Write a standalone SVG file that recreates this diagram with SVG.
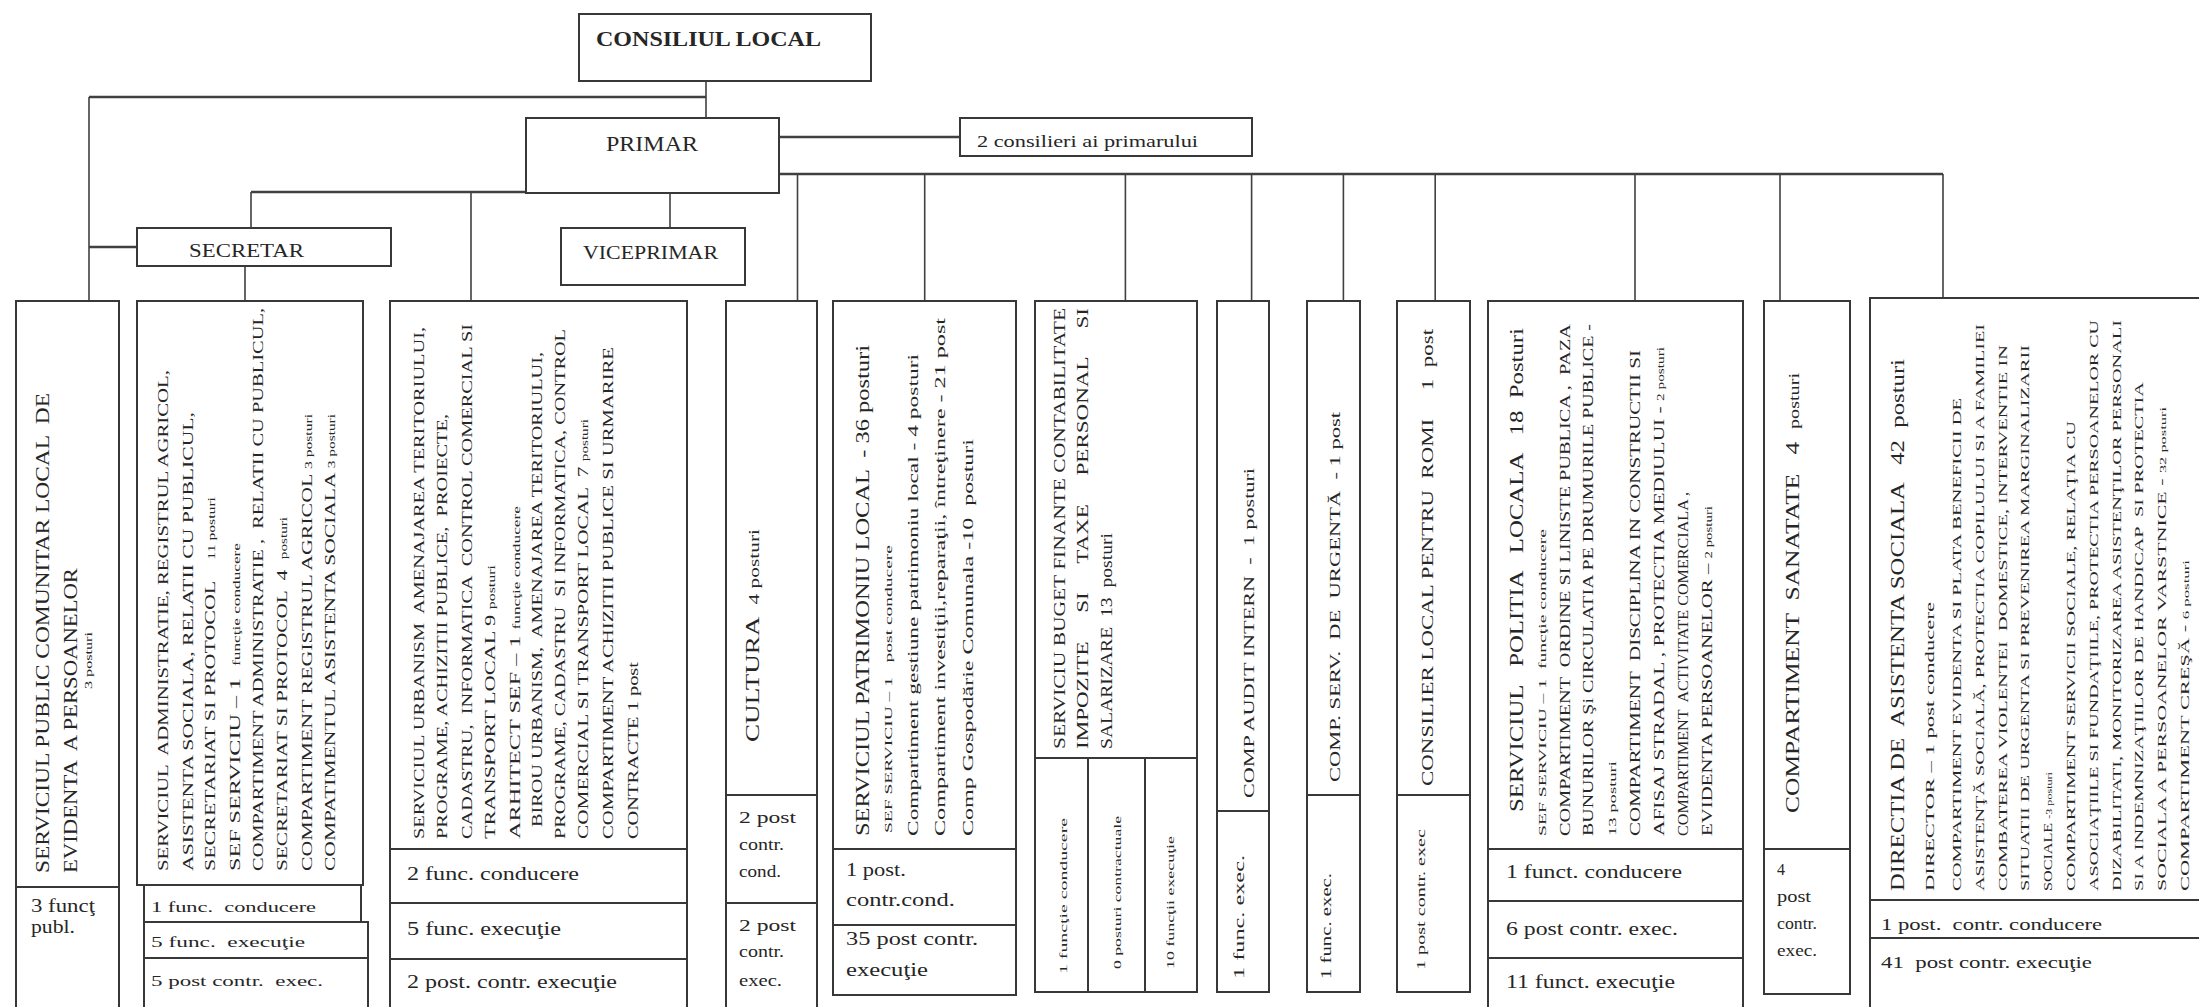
<svg xmlns="http://www.w3.org/2000/svg" width="2199" height="1007" viewBox="0 0 2199 1007" xml:space="preserve">
<style>
.bx{fill:#fff;stroke:#383838;stroke-width:2}
.dv{stroke:#383838;stroke-width:2;fill:none}
.cn{stroke:#404040;stroke-width:1.6;fill:none}
.ch{stroke:#404040;stroke-width:2.4;fill:none}
text{font-family:"Liberation Serif","Times New Roman",serif;fill:#262626;white-space:pre}
</style>
<rect width="2199" height="1007" fill="#fff"/>
<g id="connectors">
<path class="cn" d="M706 81V118"/>
<path class="ch" d="M89 97H706"/>
<path class="cn" d="M89 97V301"/>
<path class="ch" d="M89 247H137"/>
<path class="ch" d="M779 137H960"/>
<path class="ch" d="M779 174H1943"/>
<path class="cn" d="M797.5 174V301M924.7 174V301M1125.4 174V301M1251.6 174V301M1343.4 174V301M1435.2 174V301M1635 174V301M1780 174V301M1943 174V298"/>
<path class="ch" d="M251 192H526"/>
<path class="cn" d="M251 192V228M471 192V301M670 193V228M245 266V301"/>
</g>
<g id="consiliul-local"><rect class="bx" x="579" y="14" width="292" height="67"/><text x="596" y="46" font-size="20" font-weight="bold" textLength="225" lengthAdjust="spacingAndGlyphs">CONSILIUL LOCAL</text></g>
<g id="primar"><rect class="bx" x="526" y="118" width="253" height="75"/><text x="606" y="151" font-size="20" textLength="92" lengthAdjust="spacingAndGlyphs">PRIMAR</text></g>
<g id="consilieri"><rect class="bx" x="960" y="118" width="292" height="38"/><text x="977" y="147" font-size="16" textLength="221" lengthAdjust="spacingAndGlyphs">2 consilieri ai primarului</text></g>
<g id="secretar"><rect class="bx" x="137" y="228" width="254" height="38"/><text x="189" y="257" font-size="18" textLength="115" lengthAdjust="spacingAndGlyphs">SECRETAR</text></g>
<g id="viceprimar"><rect class="bx" x="561" y="228" width="184" height="57"/><text x="583" y="259" font-size="18" textLength="135" lengthAdjust="spacingAndGlyphs">VICEPRIMAR</text></g>

<g id="evidenta-persoanelor">
<rect class="bx" x="16" y="301" width="103" height="711"/><path class="dv" d="M16 887H119"/>
<text x="49" y="873" transform="rotate(-90 49 873)" font-size="19" textLength="480" lengthAdjust="spacingAndGlyphs">SERVICIUL PUBLIC COMUNITAR LOCAL  DE</text>
<text x="77" y="873" transform="rotate(-90 77 873)" font-size="19" textLength="305" lengthAdjust="spacingAndGlyphs">EVIDENTA  A PERSOANELOR</text>
<text x="92" y="689" transform="rotate(-90 92 689)" font-size="11" textLength="57" lengthAdjust="spacingAndGlyphs">3 posturi</text>
<text x="31" y="912" font-size="18" textLength="64" lengthAdjust="spacingAndGlyphs">3 funcţ</text>
<text x="31" y="933" font-size="18" textLength="44" lengthAdjust="spacingAndGlyphs">publ.</text>
</g>

<g id="administratie">
<rect class="bx" x="137" y="301" width="226" height="584"/>
<rect class="bx" x="144" y="885" width="217" height="37"/>
<rect class="bx" x="144" y="922" width="224" height="90"/><path class="dv" d="M144 958H368"/>
<text x="168" y="871" transform="rotate(-90 168 871)" font-size="14" textLength="501" lengthAdjust="spacingAndGlyphs">SERVICIUL  ADMINISTRATIE, REGISTRUL AGRICOL,</text>
<text x="193" y="871" transform="rotate(-90 193 871)" font-size="14" textLength="459" lengthAdjust="spacingAndGlyphs">ASISTENTA SOCIALA, RELATII CU PUBLICUL,</text>
<text x="215" y="871" transform="rotate(-90 215 871)" font-size="14" textLength="374" lengthAdjust="spacingAndGlyphs">SECRETARIAT SI PROTOCOL    <tspan font-size="10">11 posturi</tspan></text>
<text x="240" y="871" transform="rotate(-90 240 871)" font-size="14" textLength="328" lengthAdjust="spacingAndGlyphs">SEF SERVICIU – 1  <tspan font-size="10">funcţie conducere</tspan></text>
<text x="263" y="871" transform="rotate(-90 263 871)" font-size="14" textLength="563" lengthAdjust="spacingAndGlyphs">COMPARTIMENT ADMINISTRATIE ,  RELATII CU PUBLICUL,</text>
<text x="287" y="871" transform="rotate(-90 287 871)" font-size="14" textLength="354" lengthAdjust="spacingAndGlyphs">SECRETARIAT SI PROTOCOL  4  <tspan font-size="10">posturi</tspan></text>
<text x="312" y="871" transform="rotate(-90 312 871)" font-size="14" textLength="457" lengthAdjust="spacingAndGlyphs">COMPARTIMENT REGISTRUL AGRICOL <tspan font-size="10">3 posturi</tspan></text>
<text x="335" y="871" transform="rotate(-90 335 871)" font-size="14" textLength="457" lengthAdjust="spacingAndGlyphs">COMPATIMENTUL ASISTENTA SOCIALA <tspan font-size="10">3 posturi</tspan></text>
<text x="151" y="912" font-size="15" textLength="165" lengthAdjust="spacingAndGlyphs">1 func.  conducere</text>
<text x="151" y="947" font-size="15" textLength="154" lengthAdjust="spacingAndGlyphs">5 func.  execuţie</text>
<text x="151" y="986" font-size="15" textLength="172" lengthAdjust="spacingAndGlyphs">5 post contr.  exec.</text>
</g>

<g id="urbanism">
<rect class="bx" x="390" y="301" width="297" height="711"/><path class="dv" d="M390 849H687M390 903H687M390 959H687"/>
<text x="424" y="839" transform="rotate(-90 424 839)" font-size="14" textLength="512" lengthAdjust="spacingAndGlyphs">SERVICIUL URBANISM  AMENAJAREA TERITORIULUI,</text>
<text x="447" y="839" transform="rotate(-90 447 839)" font-size="14" textLength="425" lengthAdjust="spacingAndGlyphs">PROGRAME, ACHIZITII PUBLICE,  PROIECTE,</text>
<text x="472" y="839" transform="rotate(-90 472 839)" font-size="14" textLength="515" lengthAdjust="spacingAndGlyphs">CADASTRU,  INFORMATICA  CONTROL COMERCIAL SI</text>
<text x="495" y="839" transform="rotate(-90 495 839)" font-size="14" textLength="274" lengthAdjust="spacingAndGlyphs">TRANSPORT LOCAL 9 <tspan font-size="10">posturi</tspan></text>
<text x="520" y="839" transform="rotate(-90 520 839)" font-size="14" textLength="333" lengthAdjust="spacingAndGlyphs">ARHITECT SEF – 1 <tspan font-size="10">funcţie conducere</tspan></text>
<text x="542" y="827" transform="rotate(-90 542 827)" font-size="14" textLength="475" lengthAdjust="spacingAndGlyphs">BIROU URBANISM,  AMENAJAREA TERITORIULUI,</text>
<text x="565" y="839" transform="rotate(-90 565 839)" font-size="14" textLength="510" lengthAdjust="spacingAndGlyphs">PROGRAME, CADASTRU  SI INFORMATICA, CONTROL</text>
<text x="588" y="839" transform="rotate(-90 588 839)" font-size="14" textLength="420" lengthAdjust="spacingAndGlyphs">COMERCIAL SI TRANSPORT LOCAL  7 <tspan font-size="10">posturi</tspan></text>
<text x="613" y="839" transform="rotate(-90 613 839)" font-size="14" textLength="492" lengthAdjust="spacingAndGlyphs">COMPARTIMENT ACHIZITII PUBLICE SI URMARIRE</text>
<text x="638" y="839" transform="rotate(-90 638 839)" font-size="14" textLength="177" lengthAdjust="spacingAndGlyphs">CONTRACTE 1 post</text>
<text x="407" y="880" font-size="18" textLength="172" lengthAdjust="spacingAndGlyphs">2 func. conducere</text>
<text x="407" y="935" font-size="18" textLength="154" lengthAdjust="spacingAndGlyphs">5 func. execuţie</text>
<text x="407" y="988" font-size="18" textLength="210" lengthAdjust="spacingAndGlyphs">2 post. contr. execuţie</text>
</g>

<g id="cultura">
<rect class="bx" x="726" y="301" width="91" height="711"/><path class="dv" d="M726 795H817M726 903H817"/>
<text x="759" y="742" transform="rotate(-90 759 742)" font-size="19" textLength="213" lengthAdjust="spacingAndGlyphs">CULTURA  <tspan font-size="15">4 posturi</tspan></text>
<text x="739" y="823" font-size="17" textLength="57" lengthAdjust="spacingAndGlyphs">2 post</text>
<text x="739" y="850" font-size="17" textLength="45" lengthAdjust="spacingAndGlyphs">contr.</text>
<text x="739" y="877" font-size="17" textLength="42" lengthAdjust="spacingAndGlyphs">cond.</text>
<text x="739" y="931" font-size="17" textLength="57" lengthAdjust="spacingAndGlyphs">2 post</text>
<text x="739" y="957" font-size="17" textLength="45" lengthAdjust="spacingAndGlyphs">contr.</text>
<text x="739" y="986" font-size="17" textLength="43" lengthAdjust="spacingAndGlyphs">exec.</text>
</g>

<g id="patrimoniu">
<rect class="bx" x="833" y="301" width="183" height="694"/><path class="dv" d="M833 849H1016M833 925H1016"/>
<text x="869" y="836" transform="rotate(-90 869 836)" font-size="18" textLength="491" lengthAdjust="spacingAndGlyphs">SERVICIUL PATRIMONIU LOCAL  - 36 posturi</text>
<text x="892" y="833" transform="rotate(-90 892 833)" font-size="11" textLength="288" lengthAdjust="spacingAndGlyphs">SEF SERVICIU – 1   post conducere</text>
<text x="918" y="836" transform="rotate(-90 918 836)" font-size="15" textLength="482" lengthAdjust="spacingAndGlyphs">Compartiment gestiune patrimoniu local - 4 posturi</text>
<text x="945" y="836" transform="rotate(-90 945 836)" font-size="15" textLength="518" lengthAdjust="spacingAndGlyphs">Compartiment investiţii,reparaţii, întreţinere - 21 post</text>
<text x="973" y="836" transform="rotate(-90 973 836)" font-size="15" textLength="397" lengthAdjust="spacingAndGlyphs">Comp Gospodărie Comunala -10  posturi</text>
<text x="846" y="876" font-size="18" textLength="60" lengthAdjust="spacingAndGlyphs">1 post.</text>
<text x="846" y="906" font-size="18" textLength="109" lengthAdjust="spacingAndGlyphs">contr.cond.</text>
<text x="846" y="945" font-size="18" textLength="132" lengthAdjust="spacingAndGlyphs">35 post contr.</text>
<text x="846" y="976" font-size="18" textLength="82" lengthAdjust="spacingAndGlyphs">execuţie</text>
</g>

<g id="buget">
<rect class="bx" x="1035" y="301" width="162" height="691"/><path class="dv" d="M1035 758H1197M1088 758V992M1145 758V992"/>
<text x="1065" y="749" transform="rotate(-90 1065 749)" font-size="16" textLength="441" lengthAdjust="spacingAndGlyphs">SERVICIU BUGET FINANTE CONTABILITATE</text>
<text x="1088" y="749" transform="rotate(-90 1088 749)" font-size="16" textLength="441" lengthAdjust="spacingAndGlyphs">IMPOZITE     SI     TAXE     PERSONAL     SI</text>
<text x="1112" y="749" transform="rotate(-90 1112 749)" font-size="16" textLength="216" lengthAdjust="spacingAndGlyphs">SALARIZARE  13  posturi</text>
<text x="1067" y="974" transform="rotate(-90 1067 974)" font-size="11" textLength="156" lengthAdjust="spacingAndGlyphs">1 funcţie conducere</text>
<text x="1121" y="969" transform="rotate(-90 1121 969)" font-size="11" textLength="153" lengthAdjust="spacingAndGlyphs">0 posturi contractuale</text>
<text x="1174" y="969" transform="rotate(-90 1174 969)" font-size="11" textLength="133" lengthAdjust="spacingAndGlyphs">10 funcţii execuţie</text>
</g>

<g id="audit">
<rect class="bx" x="1217" y="301" width="52" height="691"/><path class="dv" d="M1217 811H1269"/>
<text x="1254" y="798" transform="rotate(-90 1254 798)" font-size="15" textLength="330" lengthAdjust="spacingAndGlyphs">COMP AUDIT INTERN  -  1 posturi</text>
<text x="1244" y="979" transform="rotate(-90 1244 979)" font-size="15" textLength="124" lengthAdjust="spacingAndGlyphs">1 func. exec.</text>
</g>

<g id="urgenta">
<rect class="bx" x="1307" y="301" width="53" height="691"/><path class="dv" d="M1307 795H1360"/>
<text x="1340" y="782" transform="rotate(-90 1340 782)" font-size="14" textLength="370" lengthAdjust="spacingAndGlyphs">COMP. SERV.  DE  URGENTĂ  - 1 post</text>
<text x="1331" y="979" transform="rotate(-90 1331 979)" font-size="14" textLength="106" lengthAdjust="spacingAndGlyphs">1 func. exec.</text>
</g>

<g id="romi">
<rect class="bx" x="1397" y="301" width="73" height="691"/><path class="dv" d="M1397 795H1470"/>
<text x="1433" y="786" transform="rotate(-90 1433 786)" font-size="17" textLength="457" lengthAdjust="spacingAndGlyphs">CONSILIER LOCAL PENTRU  ROMI     1  post</text>
<text x="1425" y="970" transform="rotate(-90 1425 970)" font-size="13" textLength="141" lengthAdjust="spacingAndGlyphs">1 post contr. exec</text>
</g>

<g id="politia">
<rect class="bx" x="1488" y="301" width="255" height="711"/><path class="dv" d="M1488 849H1743M1488 901H1743M1488 958H1743"/>
<text x="1523" y="812" transform="rotate(-90 1523 812)" font-size="19" textLength="484" lengthAdjust="spacingAndGlyphs">SERVICIUL   POLITIA   LOCALA   18  Posturi</text>
<text x="1546" y="836" transform="rotate(-90 1546 836)" font-size="11" textLength="307" lengthAdjust="spacingAndGlyphs">SEF SERVICIU – 1  funcţie conducere</text>
<text x="1570" y="836" transform="rotate(-90 1570 836)" font-size="14" textLength="512" lengthAdjust="spacingAndGlyphs">COMPARTIMENT  ORDINE SI LINISTE PUBLICA ,  PAZA</text>
<text x="1593" y="836" transform="rotate(-90 1593 836)" font-size="14" textLength="512" lengthAdjust="spacingAndGlyphs">BUNURILOR Şi CIRCULATIA PE DRUMURILE PUBLICE -</text>
<text x="1616" y="836" transform="rotate(-90 1616 836)" font-size="11" textLength="75" lengthAdjust="spacingAndGlyphs">13 posturi</text>
<text x="1640" y="836" transform="rotate(-90 1640 836)" font-size="14" textLength="486" lengthAdjust="spacingAndGlyphs">COMPARTIMENT  DISCIPLINA IN CONSTRUCTII SI</text>
<text x="1664" y="836" transform="rotate(-90 1664 836)" font-size="14" textLength="489" lengthAdjust="spacingAndGlyphs">AFISAJ STRADAL , PROTECTIA MEDIULUI - <tspan font-size="10">2 posturi</tspan></text>
<text x="1688" y="836" transform="rotate(-90 1688 836)" font-size="14" textLength="344" lengthAdjust="spacingAndGlyphs">COMPARTIMENT  ACTIVITATE COMERCIALA ,</text>
<text x="1712" y="836" transform="rotate(-90 1712 836)" font-size="14" textLength="330" lengthAdjust="spacingAndGlyphs">EVIDENTA PERSOANELOR – <tspan font-size="10">2 posturi</tspan></text>
<text x="1506" y="878" font-size="18" textLength="176" lengthAdjust="spacingAndGlyphs">1 funct. conducere</text>
<text x="1506" y="935" font-size="18" textLength="172" lengthAdjust="spacingAndGlyphs">6 post contr. exec.</text>
<text x="1506" y="988" font-size="18" textLength="169" lengthAdjust="spacingAndGlyphs">11 funct. execuţie</text>
</g>

<g id="sanatate">
<rect class="bx" x="1764" y="301" width="86" height="693"/><path class="dv" d="M1764 849H1850"/>
<text x="1799" y="813" transform="rotate(-90 1799 813)" font-size="19" textLength="440" lengthAdjust="spacingAndGlyphs">COMPARTIMENT  SANATATE   4  <tspan font-size="15">posturi</tspan></text>
<text x="1777" y="875" font-size="16">4</text>
<text x="1777" y="902" font-size="16" textLength="34" lengthAdjust="spacingAndGlyphs">post</text>
<text x="1777" y="929" font-size="16" textLength="40" lengthAdjust="spacingAndGlyphs">contr.</text>
<text x="1777" y="956" font-size="16" textLength="40" lengthAdjust="spacingAndGlyphs">exec.</text>
</g>

<g id="asistenta-sociala">
<rect class="bx" x="1870" y="298" width="340" height="714"/><path class="dv" d="M1870 900H2199M1870 938H2199"/>
<text x="1904" y="891" transform="rotate(-90 1904 891)" font-size="19" textLength="532" lengthAdjust="spacingAndGlyphs">DIRECTIA DE  ASISTENTA SOCIALA   42  posturi</text>
<text x="1934" y="891" transform="rotate(-90 1934 891)" font-size="13" textLength="289" lengthAdjust="spacingAndGlyphs">DIRECTOR – 1 post conducere</text>
<text x="1961" y="891" transform="rotate(-90 1961 891)" font-size="12" textLength="493" lengthAdjust="spacingAndGlyphs">COMPARTIMENT EVIDENTA SI PLATA BENEFICII DE</text>
<text x="1984" y="891" transform="rotate(-90 1984 891)" font-size="12" textLength="567" lengthAdjust="spacingAndGlyphs">ASISTENŢĂ SOCIALĂ, PROTECTIA COPILULUI SI A FAMILIEI</text>
<text x="2007" y="891" transform="rotate(-90 2007 891)" font-size="12" textLength="546" lengthAdjust="spacingAndGlyphs">COMBATEREA VIOLENTEI  DOMESTICE, INTERVENTIE IN</text>
<text x="2029" y="891" transform="rotate(-90 2029 891)" font-size="12" textLength="546" lengthAdjust="spacingAndGlyphs">SITUATII DE URGENTA SI PREVENIREA MARGINALIZARII</text>
<text x="2052" y="891" transform="rotate(-90 2052 891)" font-size="12" textLength="119" lengthAdjust="spacingAndGlyphs">SOCIALE <tspan font-size="9">-3 posturi</tspan></text>
<text x="2075" y="891" transform="rotate(-90 2075 891)" font-size="12" textLength="470" lengthAdjust="spacingAndGlyphs">COMPARTIMENT SERVICII SOCIALE, RELAŢIA CU</text>
<text x="2098" y="891" transform="rotate(-90 2098 891)" font-size="12" textLength="571" lengthAdjust="spacingAndGlyphs">ASOCIAŢIILE SI FUNDAŢIILE, PROTECTIA PERSOANELOR CU</text>
<text x="2121" y="891" transform="rotate(-90 2121 891)" font-size="12" textLength="571" lengthAdjust="spacingAndGlyphs">DIZABILITATI, MONITORIZAREA ASISTENŢILOR PERSONALI</text>
<text x="2143" y="891" transform="rotate(-90 2143 891)" font-size="12" textLength="509" lengthAdjust="spacingAndGlyphs">SI A INDEMNIZAŢIILOR DE HANDICAP  SI PROTECTIA</text>
<text x="2166" y="891" transform="rotate(-90 2166 891)" font-size="12" textLength="484" lengthAdjust="spacingAndGlyphs">SOCIALA A PERSOANELOR VARSTNICE - <tspan font-size="9">32 posturi</tspan></text>
<text x="2189" y="891" transform="rotate(-90 2189 891)" font-size="12" textLength="331" lengthAdjust="spacingAndGlyphs">COMPARTIMENT CREŞĂ - <tspan font-size="9">6 posturi</tspan></text>
<text x="1881" y="930" font-size="16" textLength="221" lengthAdjust="spacingAndGlyphs">1 post.  contr. conducere</text>
<text x="1881" y="968" font-size="16" textLength="211" lengthAdjust="spacingAndGlyphs">41  post contr. execuţie</text>
</g>
</svg>
